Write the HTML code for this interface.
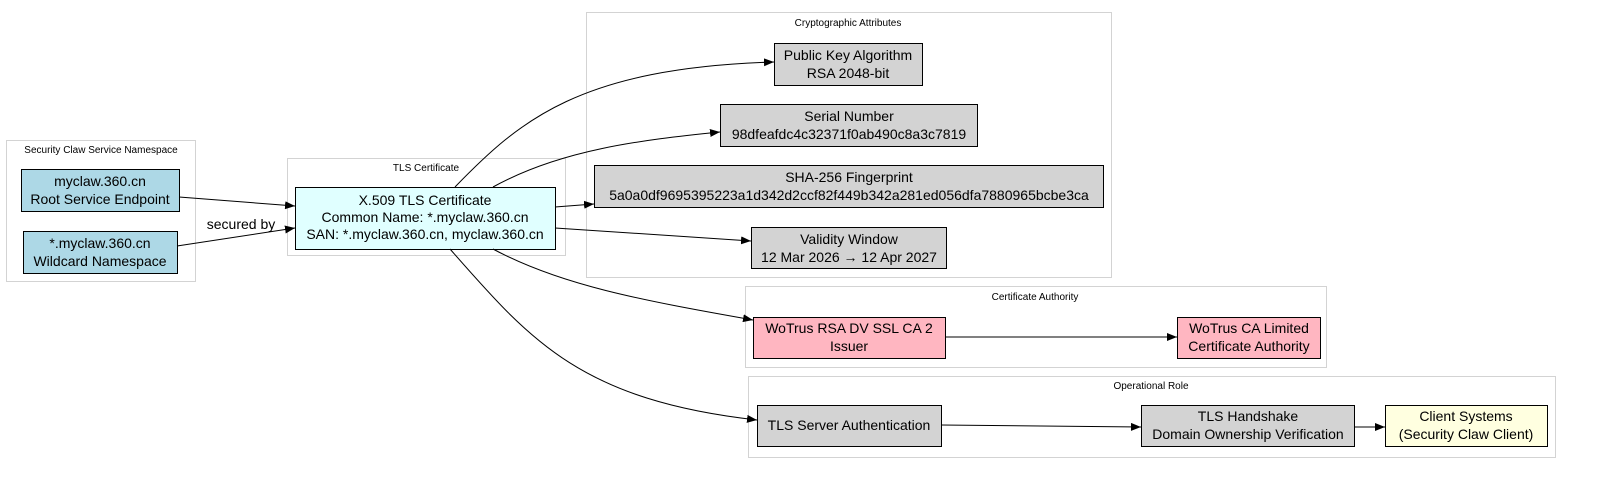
<!DOCTYPE html>
<html><head><meta charset="utf-8"><style>body{margin:0;background:#fff}svg{display:block}text{font-family:"Liberation Sans",sans-serif}</style></head><body>
<svg width="1600" height="479" viewBox="0 0 1600 479" xmlns="http://www.w3.org/2000/svg">
<defs><marker id="a" markerWidth="10" markerHeight="8" refX="10" refY="4" orient="auto" markerUnits="userSpaceOnUse"><path d="M0,0 L10,4 L0,8 z" fill="#000"/></marker></defs>
<g fill="none" stroke="#d3d3d3" stroke-width="1">
<rect x="6.5" y="140.5" width="189" height="141"/>
<rect x="287.5" y="158.5" width="278" height="97"/>
<rect x="586.5" y="12.5" width="525" height="265"/>
<rect x="745.5" y="286.5" width="581" height="81"/>
<rect x="748.5" y="376.5" width="807" height="81"/>
</g>
<g font-size="10" text-anchor="middle" fill="#000">
<text x="101" y="153">Security Claw Service Namespace</text>
<text x="426" y="171">TLS Certificate</text>
<text x="848" y="26">Cryptographic Attributes</text>
<text x="1035" y="300">Certificate Authority</text>
<text x="1151" y="389">Operational Role</text>
</g>
<g stroke="#000" stroke-width="1">
<rect x="21.5" y="169.5" width="158" height="42" fill="#add8e6"/>
<rect x="23.5" y="231.5" width="154" height="42" fill="#add8e6"/>
<rect x="295.5" y="187.5" width="260" height="62" fill="#e0ffff"/>
<rect x="774.5" y="43.5" width="148" height="42" fill="#d3d3d3"/>
<rect x="720.5" y="104.5" width="257" height="42" fill="#d3d3d3"/>
<rect x="594.5" y="165.5" width="509" height="42" fill="#d3d3d3"/>
<rect x="751.5" y="227.5" width="195" height="41" fill="#d3d3d3"/>
<rect x="753.5" y="317.5" width="192" height="41" fill="#ffb6c1"/>
<rect x="1177.5" y="317.5" width="143" height="41" fill="#ffb6c1"/>
<rect x="757.5" y="405.5" width="184" height="41" fill="#d3d3d3"/>
<rect x="1141.5" y="405.5" width="213" height="41" fill="#d3d3d3"/>
<rect x="1385.5" y="405.5" width="162" height="41" fill="#ffffe0"/>
</g>
<g fill="none" stroke="#000" stroke-width="1" marker-end="url(#a)">
<path d="M179,197 L295,206"/>
<path d="M177,246 L295,228"/>
<path d="M455,187 C520,120 580,68 774,62"/>
<path d="M493,187 C560,150 640,140 720,132"/>
<path d="M555,207 L594,204"/>
<path d="M555,228 L751,241"/>
<path d="M493,249 C560,285 640,300 753,320"/>
<path d="M450,249 C530,340 580,400 757,420"/>
<path d="M945,337 L1177,337"/>
<path d="M941,425 L1141,427"/>
<path d="M1354,427 L1385,427"/>
</g>
<g font-size="14" text-anchor="middle" fill="#000">
<text x="241" y="229">secured by</text>
<text x="100" y="186">myclaw.360.cn</text><text x="100" y="204">Root Service Endpoint</text>
<text x="100" y="248">*.myclaw.360.cn</text><text x="100" y="266">Wildcard Namespace</text>
<text x="425" y="205">X.509 TLS Certificate</text><text x="425" y="222">Common Name: *.myclaw.360.cn</text><text x="425" y="239">SAN: *.myclaw.360.cn, myclaw.360.cn</text>
<text x="848" y="60">Public Key Algorithm</text><text x="848" y="78">RSA 2048-bit</text>
<text x="849" y="121">Serial Number</text><text x="849" y="139">98dfeafdc4c32371f0ab490c8a3c7819</text>
<text x="849" y="182">SHA-256 Fingerprint</text><text x="849" y="200">5a0a0df9695395223a1d342d2ccf82f449b342a281ed056dfa7880965bcbe3ca</text>
<text x="849" y="244">Validity Window</text><text x="849" y="262">12 Mar 2026 → 12 Apr 2027</text>
<text x="849" y="333">WoTrus RSA DV SSL CA 2</text><text x="849" y="351">Issuer</text>
<text x="1249" y="333">WoTrus CA Limited</text><text x="1249" y="351">Certificate Authority</text>
<text x="849" y="430">TLS Server Authentication</text>
<text x="1248" y="421">TLS Handshake</text><text x="1248" y="439">Domain Ownership Verification</text>
<text x="1466" y="421">Client Systems</text><text x="1466" y="439">(Security Claw Client)</text>
</g>
</svg>
</body></html>
